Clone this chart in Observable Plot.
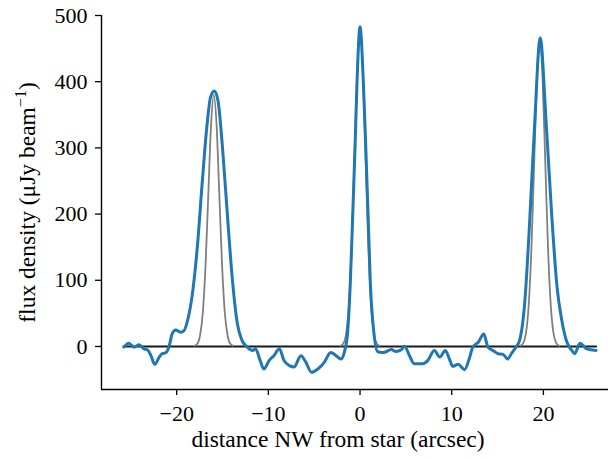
<!DOCTYPE html>
<html>
<head>
<meta charset="utf-8">
<script src="https://cdn.jsdelivr.net/npm/d3@7"></script>
<script src="https://cdn.jsdelivr.net/npm/@observablehq/plot@0.6"></script>
<style>
  html, body { margin: 0; padding: 0; background: #fff; }
</style>
</head>
<body>
<div id="chart"></div>
<script>
// Observed profile (blue)
const blueX = [-25.76,-25.2,-24.66,-24.1,-23.6,-23.2,-22.8,-22.4,-21.9,-21.6,-21.2,-20.8,-20.5,-20.1,-19.6,-19.2,-18.8,-18.3,-17.75,-17.2,-16.75,-16.3,-15.9,-15.5,-15.0,-14.5,-13.95,-13.4,-12.9,-12.3,-11.7,-11.4,-10.9,-10.5,-9.9,-9.4,-8.8,-8.3,-7.7,-7.2,-6.45,-5.9,-5.3,-4.6,-3.9,-3.2,-2.6,-2.1,-1.7,-1.35,-1.06,-0.8,-0.55,-0.33,0.0,0.36,0.63,0.88,1.12,1.5,1.93,2.4,2.7,3.4,3.9,4.5,4.85,5.4,5.9,6.85,7.4,8.1,8.7,9.3,9.8,10.1,10.7,11.4,11.9,12.3,12.9,13.5,13.95,14.5,15.05,15.6,16.1,16.5,17.0,17.4,17.95,18.5,19.05,19.65,20.3,20.9,21.5,22.0,22.5,23.1,23.4,24.0,24.7,25.75];
const blueY = [-1,5,-1,2.5,-3.5,-5,-14,-27,-16,-11,-9.5,1.5,19,25,21.6,24,40,78,150,250,326,377,386,372,300,205,105,36,10,-1,-6,-3.5,-21,-34,-21,-14,-3.5,-21,-29,-31,-14,-24,-39,-34,-24,-9,-14,-19,-8,22,97,198,299,399,483,399,299,198,97,22,-8,-9,-8.6,-4.5,-7.6,-5,0.5,-14,-26,-26,-21,-6,-16,-6,-21,-30,-27,-35,-19,-1,6.5,19,-1,-6,-11,-12,-19,-11,-1,9,64,188,338,466,338,200,88,40,9,-6,-11,5,-3.5,-6];

// Model beam profiles (grey)
const greyX1 = [-18.05,-17.75,-17.45,-17.15,-16.85,-16.55,-16.25,-15.95,-15.65,-15.35,-15.05,-14.75,-14.45,-14.15,-13.85];
const greyY1 = [1,4,17,51,123,230,335,380,335,230,123,51,17,4,1];
const greyX2 = [-2.1,-1.8,-1.5,-1.2,-0.9,-0.6,-0.3,0,0.3,0.6,0.9,1.2,1.5,1.8,2.1];
const greyY2 = [1,5,21,64,154,288,419,475,419,288,154,64,21,5,1];
const greyX3 = [17.5,17.8,18.1,18.4,18.7,19.0,19.3,19.6,19.9,20.2,20.5,20.8,21.1,21.4,21.7];
const greyY3 = [1,5,20,63,150,280,408,462,408,280,150,63,20,5,1];

// Zero baseline
const zeroX = [-25.8, 25.75];
const zeroY = [0, 0];

const xTicks = [-20, -10, 0, 10, 20];
const yTicks = [0, 100, 200, 300, 400, 500];
const xLabel = "distance NW from star (arcsec)";
const yLabel = "flux density (μJy beam−1)";

const blue = blueX.map((x, i) => ({x, y: blueY[i]}));
const grey = [
  ...greyX1.map((x, i) => ({x, y: greyY1[i], k: 1})),
  ...greyX2.map((x, i) => ({x, y: greyY2[i], k: 2})),
  ...greyX3.map((x, i) => ({x, y: greyY3[i], k: 3}))
];
const zero = zeroX.map((x, i) => ({x, y: zeroY[i]}));

const fmt = d => d < 0 ? "\u2212" + Math.abs(d) : String(d);

const chart = Plot.plot({
  width: 608,
  height: 458,
  marginLeft: 101,
  marginRight: 0,
  marginTop: 15,
  marginBottom: 69,
  x: {domain: [-28.2, 27.1]},
  y: {domain: [-65, 500]},
  style: {fontFamily: "'Liberation Serif', 'Times New Roman', serif", fontSize: "22px", color: "#000", background: "#fff"},
  marks: [
    Plot.line(zero, {x: "x", y: "y", stroke: "#1a1a1a", strokeWidth: 2}),
    Plot.line(grey, {x: "x", y: "y", z: "k", stroke: "#7f7f7f", strokeWidth: 1.8, curve: "monotone-x"}),
    Plot.line(blue, {x: "x", y: "y", stroke: "#1f77b4", strokeWidth: 3, curve: "monotone-x"}),
    Plot.axisX({ticks: xTicks, tickFormat: fmt, tickSize: 6, tickPadding: 10, label: null, strokeWidth: 1.3}),
    Plot.axisY({ticks: yTicks, tickFormat: fmt, tickSize: 6, tickPadding: 8, label: null, strokeWidth: 1.3}),
    Plot.ruleX([-28.2], {stroke: "#000", strokeWidth: 1.4}),
    Plot.ruleY([-65], {stroke: "#000", strokeWidth: 1.4}),
    Plot.text([xLabel], {frameAnchor: "bottom", textAnchor: "middle", dx: -17, dy: 57, fontSize: 23.5, fill: "#000"}),
    Plot.text([yLabel], {frameAnchor: "left", textAnchor: "middle", rotate: -90, dx: -74, dy: 0, fontSize: 23.5, fill: "#000"})
  ]
});

// superscript for beam^-1
chart.querySelectorAll("text").forEach(t => {
  if (t.textContent === yLabel) {
    const ns = "http://www.w3.org/2000/svg";
    while (t.firstChild) t.removeChild(t.firstChild);
    const a = document.createElementNS(ns, "tspan");
    a.textContent = "flux density (μJy beam";
    const b = document.createElementNS(ns, "tspan");
    b.textContent = "\u22121";
    b.setAttribute("font-size", "16");
    b.setAttribute("dy", "-9");
    const c = document.createElementNS(ns, "tspan");
    c.textContent = ")";
    c.setAttribute("dy", "9");
    t.append(a, b, c);
  }
});

document.getElementById("chart").append(chart);
</script>
</body>
</html>
